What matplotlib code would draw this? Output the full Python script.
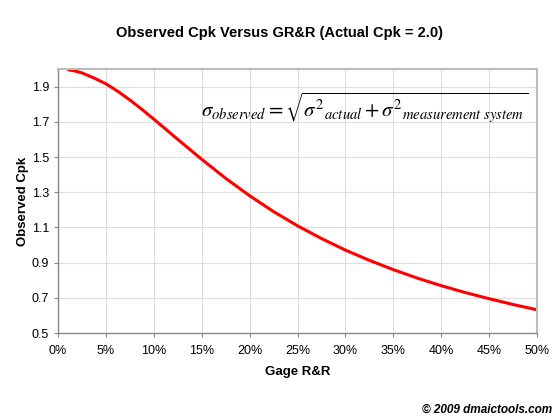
import matplotlib
matplotlib.use('Agg')
from matplotlib import pyplot as plt

plt.rcParams['font.family'] = ['Liberation Sans', 'DejaVu Sans']
plt.rcParams['mathtext.fontset'] = 'stix'

# gage R&R (%) vs observed Cpk
grr_pct = [1, 1.75, 2.5, 3.75, 5, 6.25, 7.5, 8.75, 10, 11.25, 12.5, 15, 17.5,
           20, 22.5, 25, 27.5, 30, 32.5, 35, 37.5, 40, 42.5, 45, 47.5, 50]
cpk_obs = [1.996, 1.989, 1.978, 1.949, 1.916, 1.873, 1.824, 1.771, 1.715,
           1.658, 1.600, 1.487, 1.379, 1.280, 1.190, 1.109, 1.037,
           0.971, 0.913, 0.860, 0.812, 0.769, 0.730, 0.695, 0.662, 0.632]
x_ticks = list(range(0, 55, 5))
y_ticks = [0.5, 0.7, 0.9, 1.1, 1.3, 1.5, 1.7, 1.9]

fig = plt.figure(figsize=(5.6, 4.2), dpi=100)
ax = fig.add_axes([58 / 560, 1 - 333 / 420, 479 / 560, 264 / 420])

ax.plot(grr_pct, cpk_obs, color='#ff0000', lw=2.2,
        solid_capstyle='butt', solid_joinstyle='round')

ax.set_xlim(0, 50)
ax.set_ylim(0.5, 2.0)
ax.set_xticks(x_ticks)
ax.set_xticklabels(['%d%%' % t for t in x_ticks])
ax.set_yticks(y_ticks)
ax.set_yticklabels(['%.1f' % t for t in y_ticks])
ax.grid(True, color='#dddddd', lw=0.8)
ax.set_axisbelow(True)
ax.tick_params(labelsize=9, colors='#888888', labelcolor='black', length=3, width=0.8)
ax.tick_params(axis='x', pad=6)

for s in ['left', 'bottom']:
    ax.spines[s].set_color('#888888')
    ax.spines[s].set_linewidth(1.0)
for s in ['top', 'right']:
    ax.spines[s].set_color('#bbbbbb')
    ax.spines[s].set_linewidth(1.5)

ax.set_xlabel('Gage R&R', fontsize=9.5, fontweight='bold', labelpad=6)
ax.set_ylabel('Observed Cpk', fontsize=9.5, fontweight='bold', labelpad=2)

fig.text(0.5, 1 - 33 / 420, 'Observed Cpk Versus GR&R (Actual Cpk = 2.0)',
         ha='center', va='center', fontsize=10.5, fontweight='bold')

ax.text(32.0, 1.785,
        r'$\sigma_{observed} = \sqrt{\sigma^2{}_{actual} + \sigma^2{}_{measurement\ system}}$',
        ha='center', va='center', fontsize=15)

fig.text(552 / 560, 1 - 410 / 420, '\u00a9 2009 dmaictools.com',
         ha='right', va='center', fontsize=8.5, fontweight='bold', style='italic')

plt.savefig('out.png', dpi=100)
